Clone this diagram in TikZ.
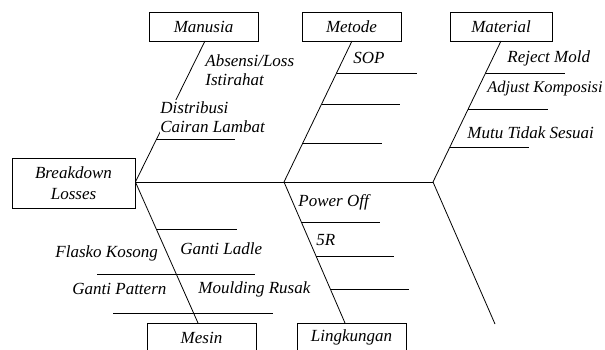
\documentclass[tikz,border=0pt]{standalone}
\usepackage{fontspec}
\setmainfont{Liberation Serif}
\begin{document}
\begin{tikzpicture}[x=1pt,y=-1pt,line width=0.8pt,
  txt/.style={font=\fontsize{17}{19}\selectfont\itshape},
  box/.style={txt,draw,inner sep=0pt,minimum height=29pt},
  lbl/.style={txt,anchor=west,inner sep=0pt,align=left}]
\useasboundingbox (0,0) rectangle (605,350);
% boxes
\node[box,minimum width=123pt,minimum height=50pt,align=center,
  font=\fontsize{17}{21}\selectfont\itshape] (head) at (73.5,183) {Breakdown\\Losses};
\node[box,minimum width=109pt] (manusia) at (203.5,26.5) {Manusia};
\node[box,minimum width=99pt] (metode) at (351.5,26.5) {Metode};
\node[box,minimum width=102pt] (material) at (501,26.5) {Material};
\node[box,minimum width=109pt] (mesin) at (201.5,337.5) {Mesin};
\node[box,minimum width=109pt] (lingkungan) at (351.5,337.5) {Lingkungan};
% spine
\coordinate (jm) at (284,182);
\coordinate (je) at (433,182);
\coordinate (tail) at (495,324);
\coordinate (mant) at (205,41);
\coordinate (mett) at (352,41);
\coordinate (matt) at (501,41);
\coordinate (mesb) at (198,323);
\coordinate (linb) at (345,323);
\draw (head.east |- jm) -- (je);
\draw (mant) -- (head.east |- jm);
\draw (mett) -- (jm);
\draw (matt) -- (je);
\draw (head.east |- jm) -- (mesb);
\draw (jm) -- (linb);
\draw (je) -- (tail);
% branches
\draw (156.3,139) -- (235,139);
\draw (336.6,73) -- (417,73);
\draw (321.6,104) -- (400,104);
\draw (302.8,143) -- (382,143);
\draw (485.6,73) -- (565,73);
\draw (468.2,109) -- (548,109);
\draw (449.9,147) -- (529,147);
\draw (156,229) -- (237,229);
\draw (97,274) -- (255,274);
\draw (113,313) -- (273,313);
\draw (301.3,222) -- (380,222);
\draw (316,256) -- (394,256);
\draw (330.3,289) -- (409,289);
% labels
\node[lbl] (l1) at (205,70.5) {Absensi/Loss\\Istirahat};
\node[lbl,fill=white,inner ysep=2pt] (l2) at (160,117) {Distribusi\\Cairan Lambat};
\node[lbl] (l3) at (353,58) {SOP};
\node[lbl] (l4) at (507,58) {Reject Mold};
\node[lbl,font=\fontsize{16.4}{19}\selectfont\itshape] (l5) at (487,89) {Adjust Komposisi};
\node[lbl] (l6) at (467,133) {Mutu Tidak Sesuai};
\node[lbl] (l7) at (298,202) {Power Off};
\node[lbl] (l8) at (316,240) {5R};
\node[lbl] (l9) at (180,249) {Ganti Ladle};
\node[lbl] (l10) at (55,253) {Flasko Kosong};
\node[lbl] (l11) at (72,289) {Ganti Pattern};
\node[lbl] (l12) at (198,289) {Moulding Rusak};
\end{tikzpicture}
\end{document}
